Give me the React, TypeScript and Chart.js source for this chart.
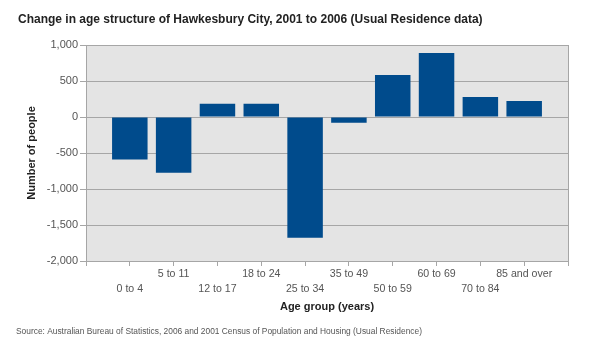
import React, { useEffect, useRef } from "react";
import { Chart, registerables } from "chart.js";

Chart.register(...registerables);

const chartTitle = "Change in age structure of Hawkesbury City, 2001 to 2006 (Usual Residence data)";
const sourceNote = "Source: Australian Bureau of Statistics, 2006 and 2001 Census of Population and Housing (Usual Residence)";
const categories = ["0 to 4", "5 to 11", "12 to 17", "18 to 24", "25 to 34", "35 to 49", "50 to 59", "60 to 69", "70 to 84", "85 and over"];
const changeValues = [-592, -773, 185, 185, -1676, -79, 583, 889, 278, 222];
const yTitle = "Number of people";
const xTitle = "Age group (years)";
const yMin = -2000;
const yMax = 1000;
const yStep = 500;

const FONT = "'Liberation Sans', Arial, sans-serif";

export default function App() {
  const ref = useRef<HTMLCanvasElement | null>(null);

  useEffect(() => {
    document.body.style.margin = "0";
    const canvas = ref.current;
    if (!canvas) return;

    // empty slot at each end, labels alternate between two rows
    const labels: (string | string[])[] = [""];
    categories.forEach((c, i) => labels.push(i % 2 === 0 ? ["", c] : c));
    labels.push("");
    const data: (number | null)[] = [null, ...changeValues, null];

    const decor = {
      id: "decor",
      beforeDraw(chart: any) {
        const { ctx, chartArea: a } = chart;
        ctx.save();
        ctx.fillStyle = "#e4e4e4";
        ctx.fillRect(a.left, a.top, a.right - a.left, a.bottom - a.top);
        ctx.restore();
      },
      afterDraw(chart: any) {
        const { ctx, chartArea: a } = chart;
        ctx.save();
        ctx.strokeStyle = "#a6a6a6";
        ctx.lineWidth = 1;
        ctx.beginPath();
        ctx.moveTo(Math.round(a.right) + 0.5, a.top);
        ctx.lineTo(Math.round(a.right) + 0.5, a.bottom + 5);
        ctx.stroke();
        ctx.textBaseline = "middle";
        ctx.textAlign = "left";
        ctx.fillStyle = "#222";
        ctx.font = `bold 12px ${FONT}`;
        ctx.fillText(chartTitle, 18, 20);
        ctx.fillStyle = "#555";
        ctx.font = `8.4px ${FONT}`;
        ctx.fillText(sourceNote, 16, 332);
        ctx.restore();
      },
    };

    const chart = new Chart(canvas, {
      type: "bar",
      data: {
        labels,
        datasets: [
          {
            data,
            backgroundColor: "#004b8c",
            categoryPercentage: 1,
            barPercentage: 0.81,
          },
        ],
      },
      options: {
        responsive: false,
        animation: false,
        devicePixelRatio: 1,
        layout: { padding: { top: 45, right: 22, bottom: 28, left: 0 } },
        plugins: {
          legend: { display: false },
          tooltip: { enabled: false },
          title: { display: false },
        },
        scales: {
          x: {
            type: "category",
            offset: false,
            grid: {
              display: true,
              offset: false,
              drawOnChartArea: false,
              drawTicks: true,
              tickLength: 5,
              color: "#a6a6a6",
            },
            border: { display: true, color: "#a6a6a6" },
            ticks: {
              autoSkip: false,
              maxRotation: 0,
              minRotation: 0,
              padding: 1,
              color: "#555",
              font: { family: FONT, size: 10.6, lineHeight: 15 / 10.6 },
            },
            title: {
              display: true,
              text: xTitle,
              color: "#222",
              font: { family: FONT, size: 11, weight: "bold" },
              padding: { top: 0, bottom: 8.4 },
            },
            afterFit(scale: any) {
              scale.height = 61;
            },
          },
          y: {
            min: yMin,
            max: yMax,
            ticks: {
              stepSize: yStep,
              padding: 2,
              color: "#555",
              font: { family: FONT, size: 11 },
            },
            grid: { color: "#a6a6a6", tickLength: 6, lineWidth: 1 },
            border: { display: true, color: "#a6a6a6" },
            title: {
              display: true,
              text: yTitle,
              color: "#222",
              font: { family: FONT, size: 11, weight: "bold" },
              padding: { top: 25.4, bottom: 0 },
            },
            afterFit(scale: any) {
              scale.width = 86;
            },
          },
        },
      },
      plugins: [decor],
    });

    return () => chart.destroy();
  }, []);

  return <canvas ref={ref} width={590} height={350} style={{ display: "block", width: 590, height: 350 }} />;
}
